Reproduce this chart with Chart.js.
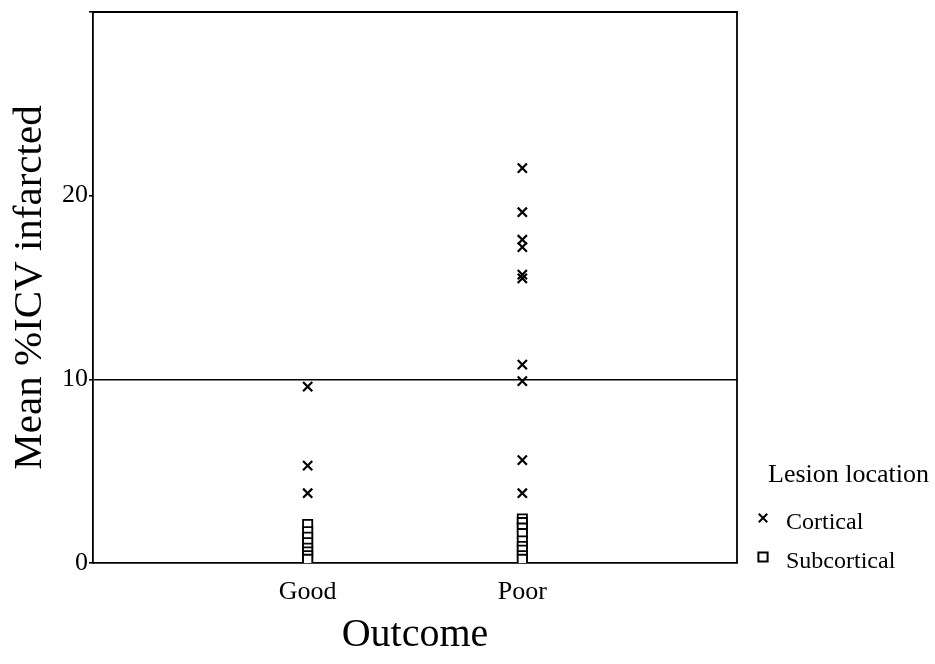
<!DOCTYPE html>
<html>
<head>
<meta charset="utf-8">
<script src="https://cdn.jsdelivr.net/npm/chart.js@4"></script>
<style>
  html, body { margin: 0; padding: 0; background: #fff; }
  #wrap { width: 935px; height: 664px; position: relative; }
</style>
</head>
<body>
<div id="wrap"><canvas id="chart" width="935" height="664"></canvas></div>
<script>
// Outcome categories, placed at x = 1, 2 on a 0..3 axis
const outcomeCategories = ['Good', 'Poor'];
const yTicks = [0, 10, 20];

// Mean %ICV infarcted
const goodCortical = [9.6, 5.3, 3.8, 1.3, 0.9, 0.5, 0.1];
const goodSubcortical = [2.1, 1.7, 1.4, 1.1, 0.8, 0.6, 0.4, 0.2];
const poorCortical = [21.5, 19.1, 17.6, 17.2, 15.7, 15.5, 10.8, 9.9, 5.6, 3.8, 2.3, 2.0, 1.4, 0.9, 0.5, 0.1];
const poorSubcortical = [2.4, 2.2, 1.9, 1.6, 1.2, 0.9, 0.7, 0.4, 0.2];

const legendTitle = 'Lesion location';
const seriesNames = ['Cortical', 'Subcortical'];

const serif = "'Liberation Serif', 'DejaVu Serif', serif";

function toPoints(cat, values) {
    const x = outcomeCategories.indexOf(cat) + 1;
    return values.map(v => ({ x: x, y: v }));
}

// frame (top and right edges) around the plot
const framePlugin = {
    id: 'frame',
    afterDraw(chart) {
        const { ctx, chartArea: a } = chart;
        ctx.save();
        ctx.strokeStyle = '#000';
        ctx.lineWidth = 1.8;
        ctx.beginPath();
        ctx.moveTo(a.left, a.top);
        ctx.lineTo(a.right, a.top);
        ctx.lineTo(a.right, a.bottom);
        ctx.stroke();
        ctx.restore();
    }
};

// legend at the lower right, like the original
const sideLegend = {
    id: 'sideLegend',
    afterDraw(chart) {
        const { ctx } = chart;
        ctx.save();
        ctx.fillStyle = '#000';
        ctx.textBaseline = 'middle';
        ctx.textAlign = 'left';
        ctx.font = '26px ' + serif;
        ctx.fillText(legendTitle, 768, 475);
        ctx.font = '24px ' + serif;
        const rows = [
            { name: seriesNames[0], y: 523, style: 'crossRot', radius: 6 },
            { name: seriesNames[1], y: 562, style: 'rect', radius: 6.5 }
        ];
        rows.forEach(r => {
            ctx.strokeStyle = '#000';
            ctx.fillStyle = '#fff';
            ctx.lineWidth = 2;
            Chart.helpers.drawPoint(ctx, { pointStyle: r.style, radius: r.radius, borderWidth: 2, rotation: 0 }, 763, r.y - 5);
            ctx.fillStyle = '#000';
            ctx.fillText(r.name, 786, r.y);
        });
        ctx.restore();
    }
};

const ctx = document.getElementById('chart');
new Chart(ctx, {
    type: 'scatter',
    data: {
        datasets: [
            {
                label: seriesNames[1],
                data: toPoints('Good', goodSubcortical).concat(toPoints('Poor', poorSubcortical)),
                pointStyle: 'rect',
                pointRadius: 6.5,
                borderColor: '#000',
                backgroundColor: '#fff',
                borderWidth: 1.8
            },
            {
                label: seriesNames[0],
                data: toPoints('Good', goodCortical).concat(toPoints('Poor', poorCortical)),
                pointStyle: 'crossRot',
                pointRadius: 6.5,
                borderColor: '#000',
                backgroundColor: '#000',
                borderWidth: 2.2
            }
        ]
    },
    options: {
        responsive: false,
        animation: false,
        events: [],
        layout: { padding: { left: 0, right: 198, top: 12, bottom: 0 } },
        plugins: {
            legend: { display: false },
            tooltip: { enabled: false }
        },
        scales: {
            x: {
                type: 'linear',
                min: 0,
                max: 3,
                afterFit: s => { s.height = 101; s.paddingLeft = 0; s.paddingRight = 0; },
                border: { display: true, color: '#000', width: 1.8 },
                grid: { display: false },
                ticks: {
                    stepSize: 1,
                    padding: 6,
                    color: '#000',
                    font: { family: serif, size: 26 },
                    callback: v => outcomeCategories[v - 1] || ''
                },
                title: {
                    display: true,
                    text: 'Outcome',
                    color: '#000',
                    font: { family: serif, size: 40 },
                    padding: { top: 0, bottom: 5 }
                }
            },
            y: {
                type: 'linear',
                min: 0,
                max: 30,
                afterFit: s => { s.width = 93; s.paddingTop = 0; s.paddingBottom = 0; },
                afterBuildTicks: s => {
                    s.ticks = yTicks.concat([30]).map(v => ({ value: v }));
                },
                border: { display: true, color: '#000', width: 1.8 },
                grid: {
                    drawOnChartArea: true,
                    drawTicks: true,
                    tickLength: 4,
                    lineWidth: 1.6,
                    tickColor: '#000',
                    color: c => (c.tick && c.tick.value === 10) ? '#000' : 'rgba(0,0,0,0)'
                },
                ticks: {
                    padding: 1,
                    color: '#000',
                    font: { family: serif, size: 26 },
                    callback: v => yTicks.includes(v) ? String(v) : ''
                },
                title: {
                    display: true,
                    text: 'Mean %ICV infarcted',
                    color: '#000',
                    font: { family: serif, size: 41 },
                    padding: { top: 6, bottom: 0 }
                }
            }
        }
    },
    plugins: [framePlugin, sideLegend]
});
</script>
</body>
</html>
